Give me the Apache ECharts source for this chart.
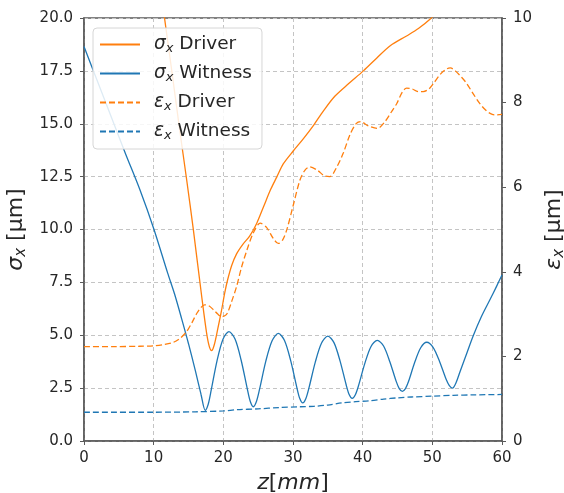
<!DOCTYPE html>
<html>
<head>
<meta charset="utf-8">
<script src="https://cdn.jsdelivr.net/npm/echarts@6/dist/echarts.min.js"></script>
<style>
  html, body { margin: 0; padding: 0; background: #ffffff; }
  #chart { width: 564px; height: 493px; }
</style>
</head>
<body>
<div id="chart"></div>
<script>
// Beam size along z: [z in mm, sigma_x in µm]
const sigmaDriver = [
  [11.0, 21.4], [11.6, 19.9], [12.6, 17.5], [13.7, 14.8], [14.74, 12.34], [15.7, 9.98],
  [16.9, 6.82], [17.6, 5.1], [18.0, 4.45], [18.33, 4.27], [18.7, 4.55], [19.2, 5.3],
  [19.7, 6.1], [20.2, 7.0], [20.6, 7.6], [21.2, 8.3], [21.9, 8.85], [22.8, 9.3],
  [23.8, 9.7], [24.8, 10.3], [25.8, 11.1], [26.8, 11.9], [27.7, 12.5], [28.6, 13.1],
  [30.0, 13.7], [31.5, 14.3], [33.0, 14.95], [34.35, 15.6], [36.0, 16.3], [38.0, 16.9],
  [40.1, 17.5], [42.0, 18.1], [44.0, 18.7], [46.3, 19.15], [48.0, 19.5], [49.7, 19.95],
  [51.0, 20.4], [52.5, 20.8]
];
const sigmaWitness = [
  [0, 18.65], [2, 16.95], [4, 15.25], [6, 13.55], [8, 11.9], [10, 10.05], [12, 7.95],
  [13, 6.95], [14, 5.8], [15, 4.6], [16, 3.3], [16.8, 2.2], [17.4, 1.45],
  [17.83, 1.74], [18.25, 2.39], [19.1, 3.8], [19.95, 4.81], [20.8, 5.17],
  [21.68, 4.82], [22.55, 3.83], [23.43, 2.48], [23.86, 1.88], [24.3, 1.62],
  [24.75, 1.87], [25.2, 2.45], [26.1, 3.78], [27.0, 4.74], [27.9, 5.09],
  [28.78, 4.75], [29.65, 3.82], [30.53, 2.56], [30.96, 2.02], [31.4, 1.8],
  [31.85, 2.01], [32.3, 2.52], [33.2, 3.73], [34.1, 4.63], [35.0, 4.96],
  [35.88, 4.65], [36.75, 3.79], [37.63, 2.66], [38.06, 2.2], [38.5, 2.02],
  [38.95, 2.19], [39.4, 2.61], [40.3, 3.66], [41.2, 4.47], [42.1, 4.76],
  [43.0, 4.49], [43.9, 3.75], [44.8, 2.83], [45.25, 2.48], [45.7, 2.35],
  [46.14, 2.48], [46.58, 2.81], [47.45, 3.7], [48.33, 4.41], [49.2, 4.67],
  [50.13, 4.42], [51.05, 3.75], [51.98, 2.92], [52.44, 2.62], [52.9, 2.5],
  [53.4, 2.75], [54.0, 3.3], [55.0, 4.2], [55.9, 5.0], [57.0, 5.85], [58.3, 6.7],
  [59.2, 7.3], [60, 7.85]
];
// Emittance along z: [z in mm, epsilon_x in µm]
const emitDriver = [
  [0, 2.23], [4, 2.23], [8, 2.24], [10, 2.25], [11.5, 2.28], [12.8, 2.33], [13.8, 2.43],
  [14.7, 2.58], [15.5, 2.8], [16.2, 3.02], [16.8, 3.16], [17.3, 3.22], [17.9, 3.2],
  [18.6, 3.1], [19.2, 3.0], [19.75, 2.94], [20.2, 2.96], [20.6, 3.03], [21.2, 3.3],
  [21.9, 3.65], [22.6, 4.1], [23.4, 4.52], [24.3, 4.92], [25.3, 5.15], [26.2, 5.05],
  [27.2, 4.78], [27.9, 4.67], [28.5, 4.75], [29.1, 4.99], [30.0, 5.55], [31.0, 6.17],
  [31.7, 6.4], [32.4, 6.48], [33.5, 6.4], [34.5, 6.27], [35.3, 6.25], [36.2, 6.45],
  [37.2, 6.8], [38.2, 7.25], [39.1, 7.51], [39.7, 7.55], [40.8, 7.45], [42.1, 7.39],
  [43.2, 7.55], [44.2, 7.8], [44.9, 7.98], [45.7, 8.25], [46.3, 8.34], [47.0, 8.33],
  [48.0, 8.26], [48.7, 8.26], [49.5, 8.32], [50.2, 8.46], [51.2, 8.68], [52.1, 8.8],
  [52.6, 8.82], [53.3, 8.75], [54.2, 8.6], [54.9, 8.46], [55.9, 8.2], [56.8, 7.98],
  [57.8, 7.8], [58.6, 7.72], [59.2, 7.71], [60, 7.72]
];
const emitWitness = [
  [0, 0.68], [10, 0.68], [16, 0.69], [20, 0.71], [22, 0.74], [25, 0.76], [28, 0.79],
  [31, 0.81], [33, 0.82], [35, 0.85], [37, 0.9], [39, 0.93], [41, 0.95], [43, 0.99],
  [45, 1.02], [47, 1.04], [50, 1.06], [53, 1.08], [56, 1.09], [60, 1.1]
];

const zTicks = [0, 10, 20, 30, 40, 50, 60];
const sigmaTicks = [0, 2.5, 5, 7.5, 10, 12.5, 15, 17.5, 20];
const emitTicks = [0, 2, 4, 6, 8, 10];

const ORANGE = '#ff7f0e';
const BLUE = '#1f77b4';
const FONT = 'DejaVu Sans';
const TEXT = '#262626';
const SPINE = '#5a5a5a';

// Rich-text styles for symbols with an italic subscript x
const mathRich = (size) => ({
  sp: { width: 9 },
  g: { fontFamily: FONT, fontStyle: 'italic', fontSize: size, color: TEXT },
  s: { fontFamily: FONT, fontStyle: 'italic', fontSize: Math.round(size * 0.7), color: TEXT, padding: [Math.round(size * 0.45), 0, 0, 0] },
  n: { fontFamily: FONT, fontSize: size, color: TEXT }
});

const legendNames = {
  'sd': '{sp|}{g|σ}{s|x}{n| Driver}',
  'sw': '{sp|}{g|σ}{s|x}{n| Witness}',
  'ed': '{sp|}{g|ε}{s|x}{n| Driver}',
  'ew': '{sp|}{g|ε}{s|x}{n| Witness}'
};

const chart = echarts.init(document.getElementById('chart'), null, { renderer: 'canvas' });

const lineSeries = (name, data, color, dashed, yIndex) => ({
  name: name,
  type: 'line',
  yAxisIndex: yIndex,
  data: data,
  symbol: 'none',
  smooth: 0.3,
  clip: true,
  lineStyle: { color: color, width: 1.3, type: dashed ? [6, 3] : 'solid' },
  itemStyle: { color: color },
  emphasis: { disabled: true },
  animation: false
});

chart.setOption({
  animation: false,
  backgroundColor: '#ffffff',
  grid: {
    left: 84, right: 62, top: 18, bottom: 52,
    containLabel: false, outerBoundsMode: 'none',
    show: true, borderColor: SPINE, borderWidth: 1.5, backgroundColor: 'transparent'
  },
  legend: {
    orient: 'vertical',
    left: 93, top: 28,
    itemWidth: 40, itemHeight: 14, itemGap: 9,
    padding: [7, 10, 7, 6],
    backgroundColor: 'rgba(255,255,255,0.85)',
    borderColor: '#d6d6d6', borderWidth: 1, borderRadius: 4,
    itemStyle: { opacity: 0 },
    data: ['sd', 'sw', 'ed', 'ew'],
    formatter: (name) => legendNames[name],
    textStyle: { fontFamily: FONT, fontSize: 18.5, color: TEXT, rich: mathRich(18.5) }
  },
  xAxis: {
    type: 'value', min: 0, max: 60, interval: 10,
    name: '{i|z}{n|[}{i|mm}{n|]}',
    nameLocation: 'middle', nameGap: 31,
    nameTextStyle: {
      rich: {
        i: { fontFamily: FONT, fontStyle: 'italic', fontSize: 22, color: TEXT },
        n: { fontFamily: FONT, fontSize: 22, color: TEXT }
      }
    },
    axisLine: { show: true, lineStyle: { color: SPINE, width: 1.5 } },
    axisTick: { show: true, length: 4, lineStyle: { color: SPINE } },
    axisLabel: { fontFamily: FONT, fontSize: 15, color: TEXT, margin: 10,
      formatter: (v) => zTicks.includes(v) ? String(v) : '' },
    splitLine: { show: true, lineStyle: { color: '#c4c4c4', type: [4, 3], width: 1 } }
  },
  yAxis: [
    {
      type: 'value', min: 0, max: 20, interval: 2.5, position: 'left',
      name: '{g|σ}{s|x}{n| [μm]}',
      nameLocation: 'middle', nameGap: 52,
      nameTextStyle: { rich: mathRich(22) },
      axisLine: { show: true, lineStyle: { color: SPINE, width: 1.5 } },
      axisTick: { show: true, length: 4, lineStyle: { color: SPINE } },
      axisLabel: { fontFamily: FONT, fontSize: 15, color: TEXT, margin: 11,
        formatter: (v) => sigmaTicks.includes(v) ? v.toFixed(1) : '' },
      splitLine: { show: true, lineStyle: { color: '#c4c4c4', type: [4, 3], width: 1 } }
    },
    {
      type: 'value', min: 0, max: 10, interval: 2, position: 'right',
      name: '{g|ε}{s|x}{n| [μm]}',
      nameLocation: 'middle', nameGap: 35, nameRotate: 90,
      nameTextStyle: { rich: mathRich(22) },
      axisLine: { show: true, lineStyle: { color: SPINE, width: 1.5 } },
      axisTick: { show: true, length: 4, lineStyle: { color: SPINE } },
      axisLabel: { fontFamily: FONT, fontSize: 15, color: TEXT, margin: 11,
        formatter: (v) => emitTicks.includes(v) ? String(v) : '' },
      splitLine: { show: false }
    }
  ],
  series: [
    lineSeries('sd', sigmaDriver, ORANGE, false, 0),
    lineSeries('sw', sigmaWitness, BLUE, false, 0),
    lineSeries('ed', emitDriver, ORANGE, true, 1),
    lineSeries('ew', emitWitness, BLUE, true, 1)
  ]
});
</script>
</body>
</html>
